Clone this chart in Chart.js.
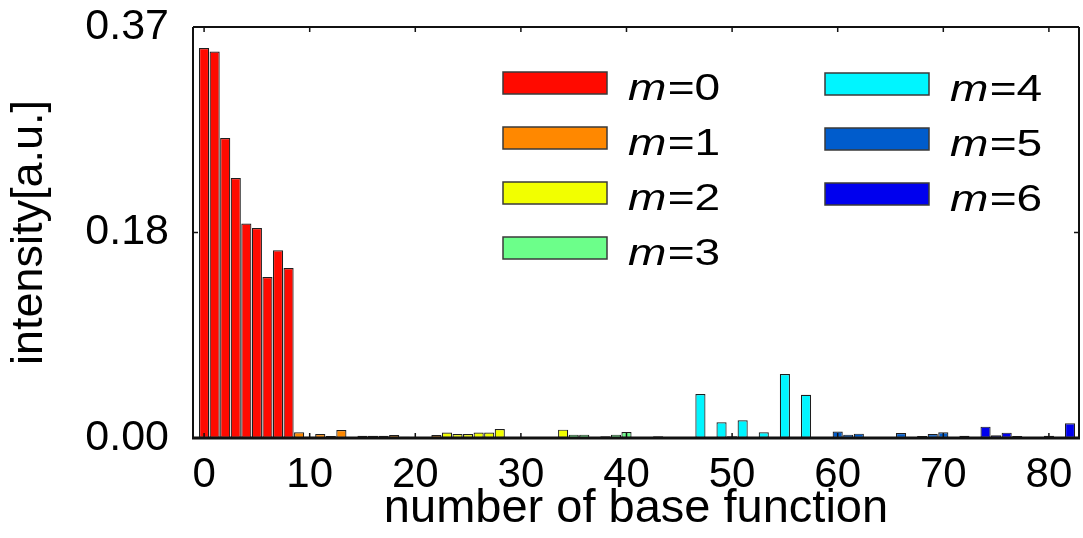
<!DOCTYPE html>
<html>
<head>
<meta charset="utf-8">
<script src="https://cdn.jsdelivr.net/npm/chart.js@4/dist/chart.umd.min.js"></script>
<style>
  html, body { margin: 0; padding: 0; background: #ffffff; }
  #wrap { width: 1083px; height: 538px; position: relative; }
</style>
</head>
<body>
<div id="wrap"><canvas id="chart" width="1083" height="538"></canvas></div>
<script>
// Intensity of each base function, one array per azimuthal number m.
// Base functions are numbered consecutively, starting with the m=0 group.
const m0 = [0.351, 0.348, 0.270, 0.234, 0.193, 0.189, 0.145, 0.169, 0.153];
const m1 = [0.0051, 0.0012, 0.0036, 0.0018, 0.0072, 0.0004, 0.0020, 0.0020, 0.0020, 0.0027, 0.0012, 0.0010, 0.0006, 0.0027];
const m2 = [0.0050, 0.0036, 0.0036, 0.0050, 0.0050, 0.0080, 0.0004, 0.0010, 0.0010, 0.0007, 0.0003, 0.0075];
const m3 = [0.0030, 0.0030, 0.0006, 0.0015, 0.0030, 0.0054, 0.0006, 0.0006, 0.0015, 0.0006, 0.0003, 0.0003];
const m4 = [0.0396, 0.0003, 0.0141, 0.0015, 0.0159, 0.0005, 0.0051, 0.0003, 0.0576, 0.0003, 0.0390, 0.0005];
const m5 = [0.0010, 0.0058, 0.0030, 0.0039, 0.0006, 0.0006, 0.0010, 0.0045, 0.0010, 0.0018, 0.0036, 0.0051];
const m6 = [0.0006, 0.0020, 0.0006, 0.0102, 0.0024, 0.0048, 0.0018, 0.0006, 0.0003, 0.0020, 0.0006, 0.0132];

const groups = [m0, m1, m2, m3, m4, m5, m6];
const groupNames = ['0', '1', '2', '3', '4', '5', '6'];

// axis ticks
const xTickValues = [0, 10, 20, 30, 40, 50, 60, 70, 80];
const yTickValues = [0, 0.185, 0.37];
const yTickLabels = ['0.00', '0.18', '0.37'];

// styling
const groupColors = ['#ff0a00', '#ff8800', '#f2ff00', '#6cff8a', '#00f5ff', '#005ccc', '#0000ee'];
const FONT = 'Liberation Sans, Arial, Helvetica, sans-serif';

// build one dataset per m group with consecutive base-function numbers
let start = 0;
const datasets = groups.map((vals, g) => {
  const first = start;
  start += vals.length;
  return {
    label: 'm=' + groupNames[g],
    data: vals.map((v, k) => ({ x: first + k, y: v })),
    backgroundColor: groupColors[g],
    borderColor: '#1e1e1e',
    borderWidth: 1.2,
    borderSkipped: false,
    grouped: false,
    categoryPercentage: 1,
    barPercentage: 0.96
  };
});

// frame round the plot area, with inward tick marks
const framePlugin = {
  id: 'frame',
  afterDatasetsDraw(chart) {
    const { ctx, chartArea: a, scales: { x, y } } = chart;
    ctx.save();
    ctx.strokeStyle = '#111111';
    ctx.lineWidth = 2;
    ctx.beginPath();
    ctx.moveTo(a.left, a.top); ctx.lineTo(a.right, a.top);
    ctx.moveTo(a.right, a.top); ctx.lineTo(a.right, a.bottom);
    ctx.moveTo(a.left, a.top); ctx.lineTo(a.left, a.bottom);
    ctx.stroke();
    ctx.lineWidth = 3;
    ctx.beginPath();
    ctx.moveTo(a.left - 1, a.bottom); ctx.lineTo(a.right + 1, a.bottom);
    ctx.stroke();
    ctx.lineWidth = 1.5;
    ctx.beginPath();
    xTickValues.forEach(v => {
      const px = x.getPixelForValue(v);
      ctx.moveTo(px, a.top); ctx.lineTo(px, a.top + 5);
      ctx.moveTo(px, a.bottom); ctx.lineTo(px, a.bottom - 5);
    });
    yTickValues.forEach(v => {
      const py = y.getPixelForValue(v);
      ctx.moveTo(a.left, py); ctx.lineTo(a.left + 5, py);
      ctx.moveTo(a.right, py); ctx.lineTo(a.right - 5, py);
    });
    ctx.stroke();
    ctx.restore();
  }
};

// two-column legend: m=0..3 on the left, m=4..6 on the right
const legendPlugin = {
  id: 'twoColumnLegend',
  afterDraw(chart) {
    const { ctx } = chart;
    const cols = [
      { x: 503, rows: [83, 138, 193, 248], items: [0, 1, 2, 3] },
      { x: 825, rows: [84, 139, 194], items: [4, 5, 6] }
    ];
    const boxW = 104, boxH = 22;
    ctx.save();
    cols.forEach(col => {
      col.items.forEach((g, r) => {
        const yc = col.rows[r];
        ctx.fillStyle = groupColors[g];
        ctx.fillRect(col.x, yc - boxH / 2, boxW, boxH);
        ctx.strokeStyle = '#3a3a3a';
        ctx.lineWidth = 1.5;
        ctx.strokeRect(col.x, yc - boxH / 2, boxW, boxH);

        // label: italic m, then "=" and the number
        ctx.save();
        ctx.translate(col.x + boxW + 21, yc + 16.5);
        ctx.scale(1.28, 1);
        ctx.fillStyle = '#000000';
        ctx.textBaseline = 'alphabetic';
        ctx.textAlign = 'left';
        ctx.font = 'italic 36px ' + FONT;
        ctx.fillText('m', 0, 0);
        const mw = ctx.measureText('m').width;
        ctx.font = '36px ' + FONT;
        ctx.fillText('=' + groupNames[g], mw + 1, 0);
        ctx.restore();
      });
    });
    ctx.restore();
  }
};

new Chart(document.getElementById('chart'), {
  type: 'bar',
  data: { datasets },
  options: {
    responsive: false,
    animation: false,
    events: [],
    layout: { padding: { top: 27, right: 4, left: 0, bottom: 0 } },
    plugins: { legend: { display: false }, tooltip: { enabled: false } },
    scales: {
      x: {
        type: 'linear',
        min: -1.05,
        max: 82.85,
        offset: false,
        grid: { display: false, drawTicks: false },
        border: { display: false },
        afterBuildTicks: s => { s.ticks = xTickValues.map(v => ({ value: v })); },
        afterFit: s => { s.height = 100; s.paddingLeft = 0; s.paddingRight = 0; },
        ticks: {
          autoSkip: false,
          maxRotation: 0,
          padding: 12,
          color: '#000000',
          font: { family: FONT, size: 42 },
          callback: v => String(v)
        },
        title: {
          display: true,
          text: 'number of base function',
          color: '#000000',
          font: { family: FONT, size: 47 },
          padding: { top: 0, bottom: 1 }
        }
      },
      y: {
        min: 0,
        max: 0.37,
        grid: { display: false, drawTicks: false },
        border: { display: false },
        afterBuildTicks: s => { s.ticks = yTickValues.map(v => ({ value: v })); },
        afterFit: s => { s.width = 193; s.paddingTop = 0; s.paddingBottom = 0; },
        ticks: {
          padding: 24,
          color: '#000000',
          font: { family: FONT, size: 43 },
          callback: (v, i) => yTickLabels[i]
        },
        title: {
          display: true,
          text: 'intensity[a.u.]',
          color: '#000000',
          font: { family: FONT, size: 45 },
          padding: { top: 3, bottom: 0 }
        }
      }
    }
  },
  plugins: [framePlugin, legendPlugin]
});
</script>
</body>
</html>
